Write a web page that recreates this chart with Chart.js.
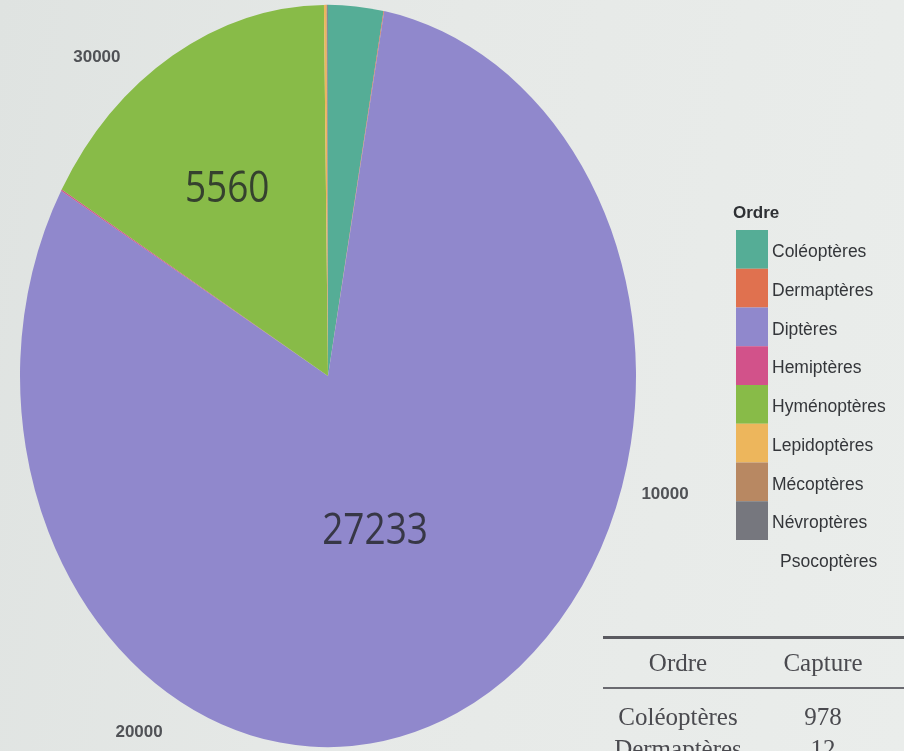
<!DOCTYPE html>
<html>
<head>
<meta charset="utf-8">
<script src="https://cdn.jsdelivr.net/npm/chart.js@4.4.1/dist/chart.umd.min.js"></script>
<style>
  html, body {
    margin: 0;
    padding: 0;
    width: 904px;
    height: 751px;
    overflow: hidden;
    background: linear-gradient(100deg, #dfe3e1 0%, #e6e9e7 45%, #eaedeb 100%);
  }
  #wrap { position: relative; width: 904px; height: 751px; overflow: hidden; }
  #pie { position: absolute; left: 0; top: 0; }
  #captures {
    position: absolute;
    left: 603px;
    top: 636px;
    width: 330px;
    table-layout: fixed;
    font-family: "Liberation Serif", "DejaVu Serif", serif;
    font-size: 25px;
    color: #4a4a4f;
    border-collapse: collapse;
  }
  #captures th, #captures td { padding: 0; font-weight: normal; height: 32px; }
  #captures thead tr { border-top: 3px solid #5a5a60; border-bottom: 2px solid #6a6a70; }
  #captures thead th { height: 48px; }
  #captures tbody tr:first-child td { padding-top: 12px; }
  #captures .c1 { width: 150px; text-align: center; }
  #captures .c2 { width: 140px; text-align: center; }
  #captures .c3 { width: 40px; }
</style>
</head>
<body>
<div id="wrap">
  <canvas id="pie" width="904" height="751"></canvas>
  <table id="captures">
    <thead><tr><th class="c1">Ordre</th><th class="c2">Capture</th><th class="c3"></th></tr></thead>
    <tbody></tbody>
  </table>
</div>
<script>
// Captures per insect order
const orders = ['Coléoptères', 'Dermaptères', 'Diptères', 'Hemiptères', 'Hyménoptères',
                'Lepidoptères', 'Mécoptères', 'Névroptères', 'Psocoptères'];
const captures = [978, 12, 27233, 20, 5560, 45, 8, 15, 3];
// Dark2 palette, last order has no colour
const orderColors = ['#55ad96', '#e0714f', '#9088cc', '#d2528a', '#88bb48',
                     '#edb65c', '#b88862', '#76777e', 'rgba(0,0,0,0)'];
const ringTicks = [10000, 20000, 30000];
const labelMin = 2000;   // only the big slices get their count written

const SQUASH = 1.205;    // vertical stretch of the pie

// summary table under the legend
const tbody = document.querySelector('#captures tbody');
orders.forEach((o, i) => {
    const tr = document.createElement('tr');
    tr.innerHTML = `<td class="c1">${o}</td><td class="c2">${captures[i]}</td><td class="c3"></td>`;
    tbody.appendChild(tr);
});

const pieGeom = (chart) => {
    const arc = chart.getDatasetMeta(0).data[0];
    return { cx: arc.x, cy: arc.y, r: arc.outerRadius };
};

// stretch the pie into an ellipse around its centre
const stretchPlugin = {
    id: 'stretch',
    beforeDatasetsDraw(chart) {
        const { cx, cy } = pieGeom(chart);
        const ctx = chart.ctx;
        ctx.save();
        ctx.translate(cx, cy);
        ctx.scale(1, SQUASH);
        ctx.translate(-cx, -cy);
    },
    afterDatasetsDraw(chart) {
        chart.ctx.restore();
    }
};

// counts on the slices, ring ticks and the legend
const annotatePlugin = {
    id: 'annotate',
    afterDraw(chart) {
        const ctx = chart.ctx;
        const { cx, cy, r } = pieGeom(chart);
        const arcs = chart.getDatasetMeta(0).data;
        const total = captures.reduce((a, b) => a + b, 0);

        // slice counts
        ctx.save();
        ctx.fillStyle = 'rgba(35, 38, 40, 0.82)';
        ctx.font = '37px "Open Sans", sans-serif';
        ctx.textAlign = 'center';
        ctx.textBaseline = 'middle';
        arcs.forEach((arc, i) => {
            if (captures[i] < labelMin) return;
            const mid = (arc.startAngle + arc.endAngle) / 2;
            const x = cx + r * 0.52 * Math.cos(mid) - 20;
            const y = cy + r * 0.52 * SQUASH * Math.sin(mid) - 20;
            ctx.save();
            ctx.translate(x, y);
            ctx.scale(1, 1.2);
            ctx.fillText(String(captures[i]), 0, 0);
            ctx.restore();
        });
        ctx.restore();

        // cumulative ticks round the pie
        ctx.save();
        ctx.fillStyle = '#505256';
        ctx.font = 'bold 17px "Liberation Sans", Arial, sans-serif';
        ctx.textAlign = 'center';
        ctx.textBaseline = 'middle';
        const start = arcs[0].startAngle;
        ringTicks.forEach(t => {
            const a = start + (t / total) * Math.PI * 2;
            const x = cx + r * 1.14 * Math.cos(a);
            const y = cy + r * 1.14 * SQUASH * Math.sin(a);
            ctx.fillText(String(t), x, y);
        });
        ctx.restore();

        // legend
        const lx = 736, ly = 230, bw = 32, bh = 38.75;
        ctx.save();
        ctx.fillStyle = '#2e3034';
        ctx.font = 'bold 17px "Liberation Sans", Arial, sans-serif';
        ctx.textBaseline = 'middle';
        ctx.fillText('Ordre', 733, 213);
        ctx.font = '17.5px "Liberation Sans", Arial, sans-serif';
        orders.forEach((o, i) => {
            ctx.fillStyle = orderColors[i];
            ctx.fillRect(lx, ly + i * bh, bw, bh);
            ctx.fillStyle = '#34363a';
            ctx.fillText(o, lx + bw + 4 + (i === orders.length - 1 ? 8 : 0), ly + i * bh + bh / 2 + 3);
        });
        ctx.restore();
    }
};

new Chart(document.getElementById('pie'), {
    type: 'pie',
    data: {
        labels: orders,
        datasets: [{
            data: captures,
            backgroundColor: orderColors,
            borderWidth: 0,
            hoverOffset: 0
        }]
    },
    options: {
        responsive: false,
        animation: false,
        events: [],
        layout: {
            padding: { left: 20, right: 268, top: 68, bottom: 67 }
        },
        plugins: {
            legend: { display: false },
            tooltip: { enabled: false }
        }
    },
    plugins: [stretchPlugin, annotatePlugin]
});
</script>
</body>
</html>
